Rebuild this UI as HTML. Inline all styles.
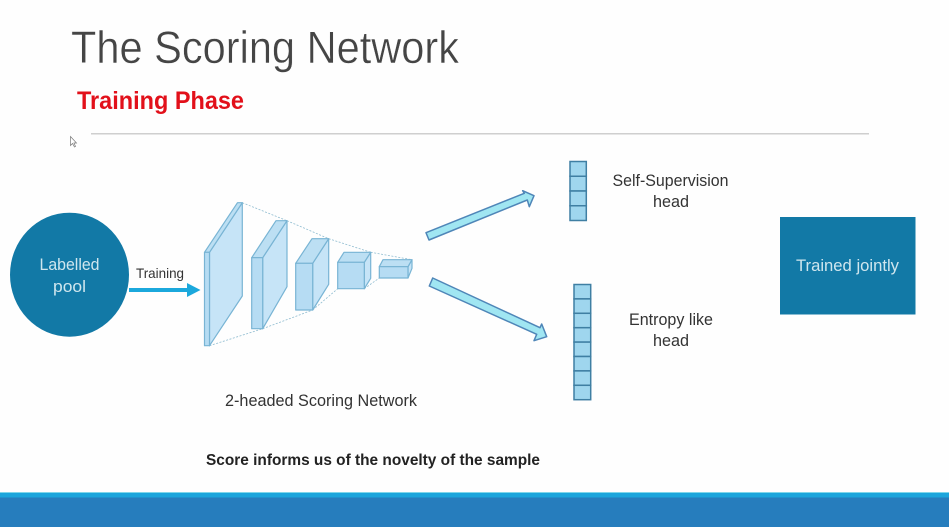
<!DOCTYPE html>
<html><head><meta charset="utf-8"><style>
html,body{margin:0;padding:0;background:#fefefe;width:949px;height:527px;overflow:hidden}
svg{display:block}
text{font-family:"Liberation Sans",sans-serif}
.soft{filter:blur(.35px)}
</style></head><body>
<svg width="949" height="527" viewBox="0 0 949 527" xmlns="http://www.w3.org/2000/svg">
<rect width="949" height="527" fill="#fefefe"/>
<g class="soft">
<text x="71" y="63" font-size="45" fill="#454545" stroke="#fefefe" stroke-width=".45" paint-order="fill" textLength="388" lengthAdjust="spacingAndGlyphs">The Scoring Network</text>
<text x="77" y="109" font-size="25" font-weight="bold" fill="#e2101a" textLength="167" lengthAdjust="spacingAndGlyphs">Training Phase</text>
<rect x="91" y="133" width="778" height="1.500" fill="#cfcfcf"/>
<path d="M70.500 136.500v9l2-2 2 3.500 1-.6-1.600-3.400h2.600z" fill="#fff" stroke="#777" stroke-width=".7"/>

<ellipse cx="69.500" cy="274.700" rx="59.500" ry="62" fill="#1279a6"/>
<g fill="#cfe6ee" font-size="17" text-anchor="middle">
<text x="69.500" y="270" textLength="60" lengthAdjust="spacingAndGlyphs">Labelled</text>
<text x="69.500" y="292" textLength="33" lengthAdjust="spacingAndGlyphs">pool</text>
</g>
<text x="160" y="278" font-size="14" fill="#333" text-anchor="middle" textLength="48" lengthAdjust="spacingAndGlyphs">Training</text>
<path d="M129 288h58v-5l13.500 7-13.500 7v-5h-58z" fill="#1ba8dc"/>

<g stroke="#8fbcd0" stroke-width=".8" stroke-dasharray="2 1.500" fill="none">
<path d="M242.300 202.700L287 220.700M209.500 345.700L262.700 328.700M287 220.700L328.700 238.700M262.700 328.700L312.700 310M328.700 238.700L370.700 252.300M312.700 310L337.700 288.700M370.700 252.300L412 259.700M364.300 288.700L379.300 278"/>
</g>

<g stroke="#78b4d4" stroke-width="1.200" stroke-linejoin="round">
<path d="M209.500 252.300L242.300 202.700V296L209.500 345.700Z" fill="#c6e4f7"/>
<path d="M204.500 252.300L237.500 202.700H242.300L209.500 252.300Z" fill="#bcdff3"/>
<rect x="204.500" y="252.300" width="5" height="93.400" fill="#b6dcf3"/>

<path d="M262.700 257.700L287 220.700V286.700L262.700 328.700Z" fill="#c6e4f7"/>
<path d="M251.700 257.700L276 220.700H287L262.700 257.700Z" fill="#bcdff3"/>
<rect x="251.700" y="257.700" width="11" height="71" fill="#b6dcf3"/>

<path d="M312.700 263.300L328.700 238.700V284.300L312.700 310Z" fill="#c6e4f7"/>
<path d="M295.700 263.300L312 238.700H328.700L312.700 263.300Z" fill="#bcdff3"/>
<rect x="295.700" y="263.300" width="17" height="46.700" fill="#b6dcf3"/>

<path d="M364.300 262.300L370.700 252.300V278.300L364.300 288.700Z" fill="#c6e4f7"/>
<path d="M337.700 262.300L344 252.300H370.700L364.300 262.300Z" fill="#bcdff3"/>
<rect x="337.700" y="262.300" width="26.600" height="26.400" fill="#b6dcf3"/>

<path d="M408 266.700L412 259.700V268.300L408 278Z" fill="#c6e4f7"/>
<path d="M379.300 266.700L383 259.700H412L408 266.700Z" fill="#bcdff3"/>
<rect x="379.300" y="266.700" width="28.700" height="11.300" fill="#b6dcf3"/>
</g>

<g fill="#a0e6f2" stroke="#4f86b8" stroke-width="1.500" stroke-linejoin="round">
<path d="M426 232.700L524.300 193.300L522.700 190.700L534 195.700L529.300 206.700L527.300 200L429 240Z"/>
<path d="M432.700 278L540 327.700L541.700 324L546.700 336.700L534 340.700L536.700 334.300L429.300 286Z"/>
</g>

<g fill="#9fd6ee" stroke="#3f7fa3" stroke-width="1.500">
<rect x="570" y="161.500" width="16.300" height="14.750"/>
<rect x="570" y="176.250" width="16.300" height="14.750"/>
<rect x="570" y="191" width="16.300" height="14.750"/>
<rect x="570" y="205.750" width="16.300" height="14.750"/>
<rect x="574" y="284.500" width="16.700" height="14.400"/>
<rect x="574" y="298.900" width="16.700" height="14.400"/>
<rect x="574" y="313.300" width="16.700" height="14.400"/>
<rect x="574" y="327.700" width="16.700" height="14.400"/>
<rect x="574" y="342.100" width="16.700" height="14.400"/>
<rect x="574" y="356.500" width="16.700" height="14.400"/>
<rect x="574" y="370.900" width="16.700" height="14.400"/>
<rect x="574" y="385.300" width="16.700" height="14.400"/>
</g>

<g fill="#333" font-size="16.500" text-anchor="middle">
<text x="670.500" y="186" textLength="116" lengthAdjust="spacingAndGlyphs">Self-Supervision</text>
<text x="671" y="207" textLength="36" lengthAdjust="spacingAndGlyphs">head</text>
<text x="671" y="325" textLength="84" lengthAdjust="spacingAndGlyphs">Entropy like</text>
<text x="671" y="346" textLength="36" lengthAdjust="spacingAndGlyphs">head</text>
<text x="321" y="406" textLength="192" lengthAdjust="spacingAndGlyphs">2-headed Scoring Network</text>
</g>
<text x="206" y="465" font-size="16" font-weight="bold" fill="#222" textLength="334" lengthAdjust="spacingAndGlyphs">Score informs us of the novelty of the sample</text>

<rect x="780" y="217" width="135.500" height="97.500" fill="#1279a6"/>
<text x="847.500" y="271" font-size="17" fill="#cfe6ee" text-anchor="middle" textLength="103" lengthAdjust="spacingAndGlyphs">Trained jointly</text>
</g>

<rect x="0" y="492" width="949" height="1" fill="#7fd6ea"/>
<rect x="0" y="493" width="949" height="5" fill="#1ba5dc"/>
<rect x="0" y="497.500" width="949" height="29.500" fill="#267dbd"/>
</svg>
</body></html>
